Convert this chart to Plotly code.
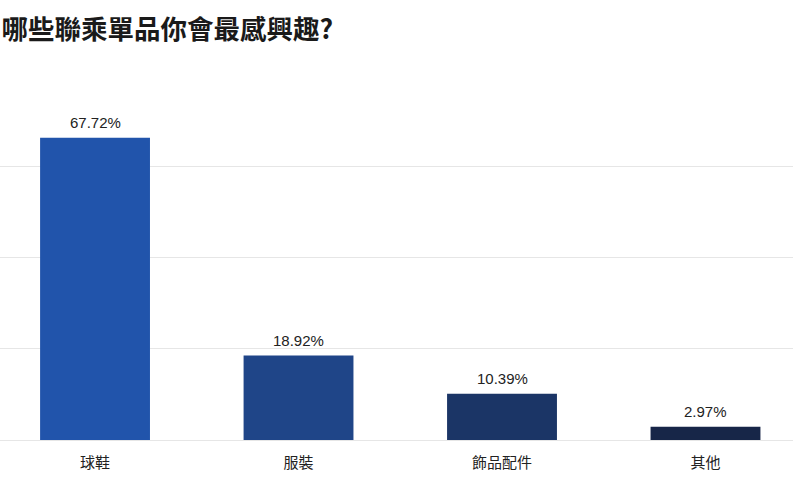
import plotly.graph_objects as go

categories = ["球鞋", "服裝", "飾品配件", "其他"]
values = [67.72, 18.92, 10.39, 2.97]
value_labels = ["67.72%", "18.92%", "10.39%", "2.97%"]
bar_colors = ["#2154AB", "#1F4588", "#1B3566", "#172648"]
grid_vals = [0, 20.4, 40.8, 61.2]
title_text = "哪些聯乘單品你會最感興趣?"

fig = go.Figure()
fig.add_trace(go.Bar(
    x=categories,
    y=values,
    marker=dict(color=bar_colors, line=dict(width=0)),
    width=0.54,
    hoverinfo="skip",
))

for c, v, t in zip(categories, values, value_labels):
    fig.add_annotation(
        x=c, y=v, text=t, showarrow=False,
        yanchor="middle", yshift=15,
        font=dict(family="Liberation Sans, Arial, sans-serif", size=15, color="#222222"),
    )

fig.update_layout(
    width=800, height=477,
    margin=dict(l=0, r=7, t=100, b=37),
    paper_bgcolor="white",
    plot_bgcolor="white",
    showlegend=False,
    title=dict(
        text="<b>" + title_text + "</b>",
        x=0.002, xref="container", xanchor="left",
        y=1 - 30 / 477, yref="container", yanchor="middle",
        font=dict(family="Noto Sans CJK TC", size=26.5, color="#1a1a1a"),
    ),
    xaxis=dict(
        range=[-0.467, 3.43],
        showgrid=False, zeroline=False, showline=False,
        ticks="outside", ticklen=9, tickcolor="rgba(0,0,0,0)",
        tickfont=dict(family="Noto Sans CJK TC", size=15, color="#222222"),
        fixedrange=True,
    ),
    yaxis=dict(
        range=[0, 76.2],
        tickvals=grid_vals,
        showticklabels=False,
        showgrid=True, gridcolor="#e6e6e6", gridwidth=1,
        zeroline=True, zerolinecolor="#e6e6e6", zerolinewidth=1,
        showline=False, ticks="",
        fixedrange=True,
    ),
)

fig.write_html(
    "out.html",
    config={"displayModeBar": False},
    post_script="document.body.style.margin='0';document.body.style.padding='0';document.body.style.overflow='hidden';",
)
